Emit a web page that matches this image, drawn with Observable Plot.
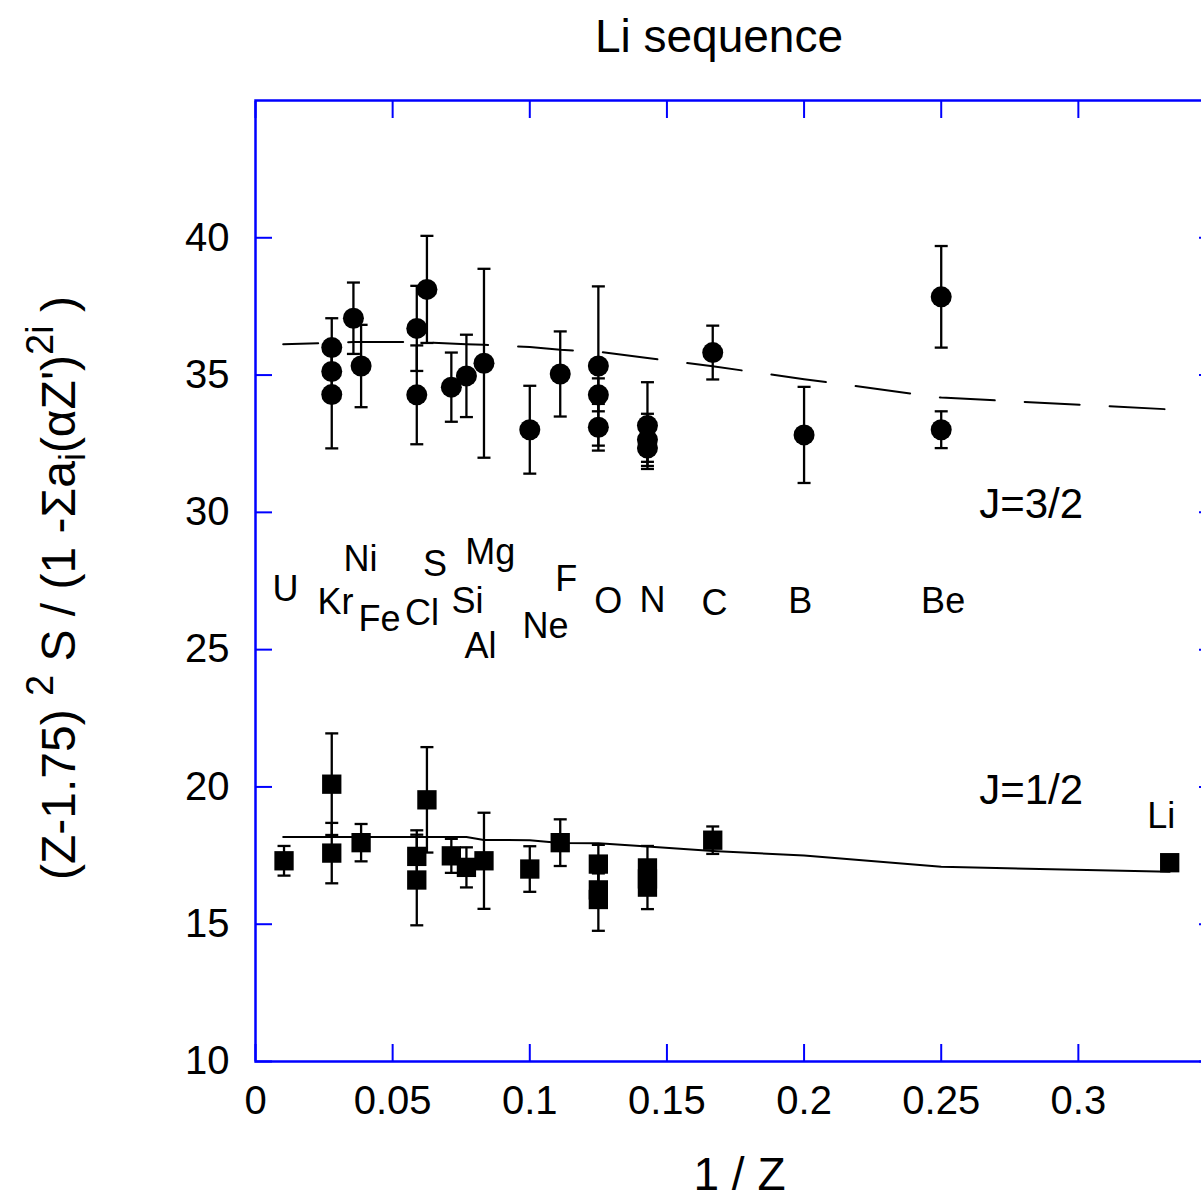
<!DOCTYPE html>
<html><head><meta charset="utf-8">
<script src="https://cdn.jsdelivr.net/npm/d3@7"></script>
<script src="https://cdn.jsdelivr.net/npm/@observablehq/plot@0.6"></script>
<style>
html,body{margin:0;padding:0;background:#fff;overflow:hidden;}
#title{font-family:Arial,"Liberation Sans",sans-serif;font-size:46px;line-height:46px;height:80px;box-sizing:border-box;padding-top:13px;width:1438px;text-align:center;color:#000;}
#chart{width:1240px;}
#chart svg{display:block;max-width:none !important;width:1240px !important;height:1120px !important;}
</style></head><body>
<div id="title">Li sequence</div>
<div id="chart"></div>
<script>
// ---- axis ticks ----
const xTicks = [0, 0.05, 0.1, 0.15, 0.2, 0.25, 0.3];
const yTicks = [10, 15, 20, 25, 30, 35, 40];

// ---- J=3/2 measurements (1/Z, value, error) ----
const j32X   = [0.0278, 0.0278, 0.0278, 0.0357, 0.0385, 0.0588, 0.0588, 0.0625, 0.0714, 0.0769, 0.0833, 0.1, 0.1111, 0.125, 0.125, 0.125, 0.1429, 0.1429, 0.1429, 0.1667, 0.2, 0.25, 0.25];
const j32Y   = [36.0, 35.13, 34.29, 37.07, 35.33, 36.70, 34.28, 38.12, 34.56, 34.97, 35.43, 33.01, 35.04, 35.33, 34.28, 33.10, 33.16, 32.64, 32.34, 35.82, 32.82, 37.85, 33.01];
const j32Err = [1.07, 0.8, 1.96, 1.3, 1.5, 1.55, 1.8, 1.95, 1.26, 1.5, 3.44, 1.6, 1.55, 2.9, 0.6, 0.85, 1.58, 0.95, 0.5, 0.98, 1.75, 1.85, 0.67];

// ---- J=1/2 measurements ----
const j12X   = [0.0104, 0.0278, 0.0278, 0.0385, 0.0588, 0.0588, 0.0625, 0.0714, 0.0769, 0.0833, 0.1, 0.1111, 0.125, 0.125, 0.125, 0.1429, 0.1429, 0.1429, 0.1667, 0.3333];
const j12Y   = [17.31, 20.10, 17.59, 17.97, 17.47, 16.61, 19.53, 17.49, 17.07, 17.31, 17.01, 17.97, 17.19, 16.25, 15.90, 17.05, 16.65, 16.35, 18.06, 17.24];
const j12Err = [0.54, 1.85, 1.1, 0.68, 0.95, 1.65, 1.92, 0.62, 0.73, 1.75, 0.83, 0.85, 0.7, 0.6, 1.14, 0.8, 0.5, 0.8, 0.5, 0];

// ---- theory curves ----
const theoryX  = [0.0101, 0.0357, 0.0588, 0.0769, 0.0833, 0.1, 0.1111, 0.125, 0.1429, 0.1667, 0.2, 0.25, 0.3333];
const theory32 = [36.12, 36.2, 36.2, 36.12, 36.1, 36.02, 35.92, 35.85, 35.62, 35.32, 34.85, 34.18, 33.75];
const theory12 = [18.18, 18.18, 18.18, 18.18, 18.07, 18.06, 17.96, 17.95, 17.83, 17.67, 17.5, 17.09, 16.91];

// ---- element labels (anchor in data coordinates) ----
const elemText = ["U","Kr","Ni","Fe","Cl","S","Mg","Si","Al","F","Ne","O","N","C","B","Be"];
const elemX    = [0.0109,0.0292,0.0383,0.0452,0.0607,0.0654,0.0856,0.0773,0.0820,0.1133,0.1057,0.1286,0.1447,0.1673,0.1986,0.2507];
const elemY    = [26.76,26.29,27.85,25.67,25.89,27.67,28.12,26.33,24.70,27.13,25.43,26.33,26.36,26.25,26.33,26.33];

const seriesText = ["J=3/2", "J=1/2"];
const seriesX = [0.2828, 0.2828];
const seriesY = [29.79, 19.38];
const liText = ["Li"];
const liX = [0.3302];
const liY = [18.51];

// ---- build tables ----
const rows32 = j32X.map((x, i) => ({x, y: j32Y[i], e: j32Err[i]}));
const rows12 = j12X.map((x, i) => ({x, y: j12Y[i], e: j12Err[i]}));
const errRows = rows32.concat(rows12).filter(d => d.e > 0);
const th32 = theoryX.map((x, i) => ({x, y: theory32[i]}));
const th12 = theoryX.map((x, i) => ({x, y: theory12[i]}));
const elems = elemText.map((t, i) => ({t, x: elemX[i], y: elemY[i]}));
const series = seriesText.map((t, i) => ({t, x: seriesX[i], y: seriesY[i]}));
const li = liText.map((t, i) => ({t, x: liX[i], y: liY[i]}));

const capSymbol = {draw(ctx, size) { const r = Math.sqrt(size / Math.PI); ctx.moveTo(-r, 0); ctx.lineTo(r, 0); }};
const BLUE = "#0000ff";
const FONT = "Arial, 'Liberation Sans', sans-serif";

const plot = Plot.plot({
  width: 1240, height: 1120,
  marginLeft: 255, marginRight: 25, marginTop: 20, marginBottom: 139,
  x: {domain: [0, 0.35]},
  y: {domain: [10, 45]},
  style: {fontFamily: FONT, background: "#fff", color: "#000"},
  marks: [
    Plot.axisX({anchor: "bottom", ticks: xTicks, tickSize: -17, tickPadding: 40.6, stroke: BLUE, strokeWidth: 2, fill: "#000", fontSize: 40, label: null, tickFormat: d => String(d)}),
    Plot.axisX({anchor: "top", ticks: xTicks, tickSize: -17, stroke: BLUE, strokeWidth: 2, tickFormat: () => "", label: null}),
    Plot.axisY({anchor: "left", ticks: yTicks, tickSize: -17, tickPadding: 43, stroke: BLUE, strokeWidth: 2, fill: "#000", fontSize: 40, label: null, tickFormat: d => String(d)}),
    Plot.axisY({anchor: "right", ticks: yTicks, tickSize: -17, stroke: BLUE, strokeWidth: 2, tickFormat: () => "", label: null}),
    Plot.frame({stroke: BLUE, strokeWidth: 2.5}),
    Plot.line(th32, {x: "x", y: "y", stroke: "#000", strokeWidth: 2, strokeDasharray: "55,30", strokeDashoffset: 20}),
    Plot.line(th12, {x: "x", y: "y", stroke: "#000", strokeWidth: 2}),
    Plot.ruleX(errRows, {x: "x", y1: d => d.y - d.e, y2: d => d.y + d.e, stroke: "#000", strokeWidth: 2.3}),
    Plot.dot(errRows, {x: "x", y: d => d.y + d.e, symbol: capSymbol, r: 6.5, stroke: "#000", strokeWidth: 2.3, fill: "none"}),
    Plot.dot(errRows, {x: "x", y: d => d.y - d.e, symbol: capSymbol, r: 6.5, stroke: "#000", strokeWidth: 2.3, fill: "none"}),
    Plot.dot(rows32, {x: "x", y: "y", r: 10.5, fill: "#000", stroke: null}),
    Plot.dot(rows12, {x: "x", y: "y", symbol: "square", r: 10.9, fill: "#000", stroke: null}),
    Plot.text(elems, {x: "x", y: "y", text: "t", fontSize: 36, lineAnchor: "bottom", fill: "#000"}),
    Plot.text(series, {x: "x", y: "y", text: "t", fontSize: 42, lineAnchor: "bottom", fill: "#000"}),
    Plot.text(li, {x: "x", y: "y", text: "t", fontSize: 36, lineAnchor: "bottom", fill: "#000"}),
    Plot.text(["1 / Z"], {frameAnchor: "bottom", dx: 4, dy: 128, lineAnchor: "bottom", fontSize: 46, fill: "#000"})
  ]
});
document.getElementById("chart").appendChild(plot);

// rotated y-axis title with super/subscripts
const yl = d3.select(plot).append("text")
  .attr("transform", "translate(75,508) rotate(-90)")
  .attr("text-anchor", "middle")
  .attr("font-family", FONT)
  .attr("font-size", 48)
  .attr("fill", "#000");
yl.append("tspan").text("(Z-1.75) ");
yl.append("tspan").attr("font-size", 38).attr("dy", -22).text("2");
yl.append("tspan").attr("dy", 22).text(" S / (1 -\u03A3a");
yl.append("tspan").attr("font-size", 36).attr("dy", 10).text("i");
yl.append("tspan").attr("dy", -10).text("(\u03B1Z')");
yl.append("tspan").attr("font-size", 38).attr("dy", -22).text("2i");
yl.append("tspan").attr("dy", 22).text(" )");
</script>
</body></html>
